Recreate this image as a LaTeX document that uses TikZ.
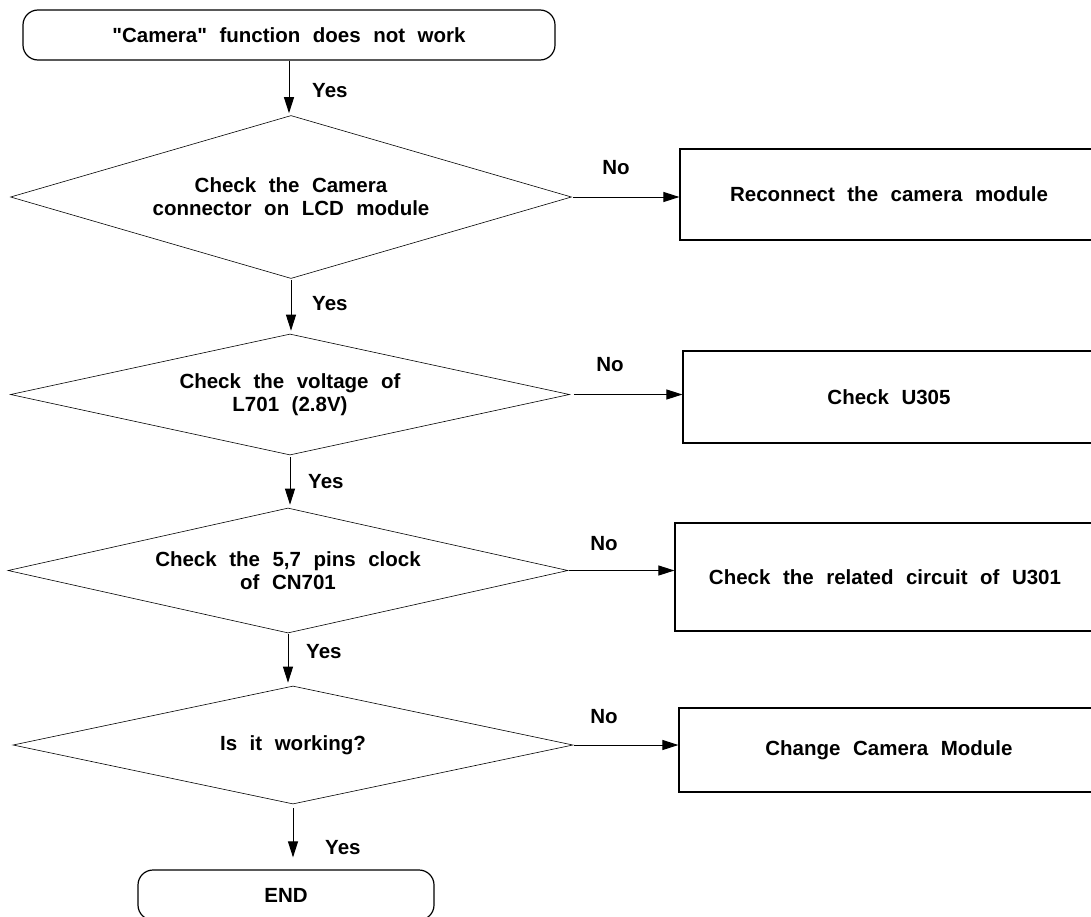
\documentclass[tikz,border=0pt]{standalone}
\usepackage{fontspec}
\setmainfont{Liberation Sans}[WordSpace=2.2,Ligatures=TeXOff]
\usetikzlibrary{shapes.geometric,arrows.meta}
\begin{document}
\begin{tikzpicture}[x=1pt,y=-1pt,
  font=\fontsize{20.5}{23}\selectfont\bfseries,
  term/.style={draw,line width=1.2pt,rounded corners=15pt,inner sep=0},
  dec/.style={draw,diamond,shape aspect=4.5,line width=0.6pt,inner sep=0,align=center},
  act/.style={draw,line width=1.2pt,inner sep=0},
  arr/.style={-{Triangle[length=16pt,width=10pt]},line width=1pt},
  lbl/.style={inner sep=0,anchor=west}]
\useasboundingbox (0,0) rectangle (1091,916);
\clip (0,0) rectangle (1091,916);
\fill[white] (0,0) rectangle (1091,916);

\node[term,minimum width=532pt,minimum height=50pt] (start) at (289,35) {"Camera" function does not work};

\node[dec,minimum width=561pt,minimum height=163pt] (d1) at (291,197) {Check the Camera\\connector on LCD module};
\node[dec,minimum width=559pt,minimum height=121pt] (d2) at (290,394.5) {Check the voltage of\\L701 (2.8V)};
\node[dec,minimum width=560pt,minimum height=125pt] (d3) at (288,570.5) {Check the 5,7 pins clock\\of CN701};
\node[dec,minimum width=560pt,minimum height=118pt] (d4) at (293,745) {Is it working?};

\node[act,minimum width=418pt,minimum height=91pt] (b1) at (889,194.5) {Reconnect the camera module};
\node[act,minimum width=412pt,minimum height=92pt] (b2) at (889,397) {Check U305};
\node[act,minimum width=420pt,minimum height=108pt] (b3) at (885,577) {Check the related circuit of U301};
\node[act,minimum width=420pt,minimum height=84pt] (b4) at (889,750) {Change Camera Module};

\node[term,minimum width=296pt,minimum height=50pt] (end) at (286,895) {END};

% vertical arrows
\draw[arr,shorten >=2pt] (start.south) -- (start.south |- d1.north);
\draw[arr,shorten >=3pt,shorten <=1pt] (d1.south) -- (d1.south |- d2.north);
\draw[arr,shorten >=3pt,shorten <=2pt] (d2.south) -- (d2.south |- d3.north);
\draw[arr,shorten >=3pt,shorten <=1pt] (d3.south) -- (d3.south |- d4.north);
\draw[arr,shorten >=12pt,shorten <=4pt] (d4.south) -- (d4.south |- end.north);

% horizontal arrows
\draw[arr,shorten <=1pt] (d1.east) -- (d1.east -| b1.west);
\draw[arr,shorten <=4pt] (d2.east) -- (d2.east -| b2.west);
\draw[arr,shorten <=1pt] (d3.east) -- (d3.east -| b3.west);
\draw[arr,shorten <=1pt] (d4.east) -- (d4.east -| b4.west);

% labels
\node[lbl] (y1) at (312,91) {Yes};
\node[lbl] (y2) at (312,304) {Yes};
\node[lbl] (y3) at (308,482) {Yes};
\node[lbl] (y4) at (306,652) {Yes};
\node[lbl] (y5) at (325,848) {Yes};
\node (n1) at (616,168) {No};
\node (n2) at (610,365) {No};
\node (n3) at (604,544) {No};
\node (n4) at (604,717) {No};
\end{tikzpicture}
\end{document}
